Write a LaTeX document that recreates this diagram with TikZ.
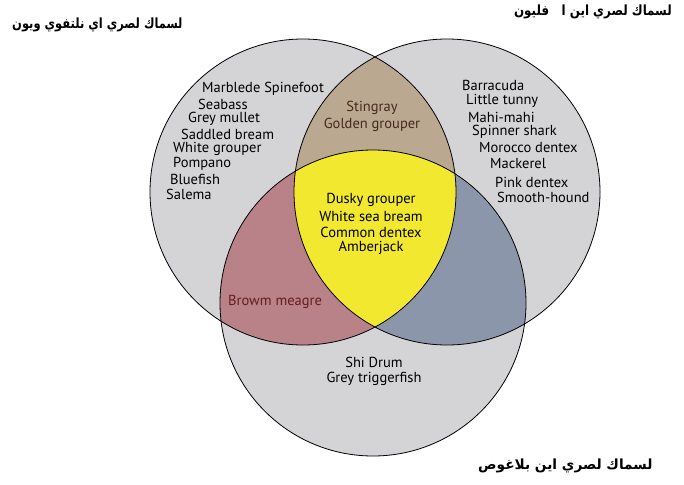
\documentclass[tikz,border=0pt]{standalone}
\usepackage{fontspec}
\setmainfont{PT Sans}
\newfontfamily\arabicfont[Script=Arabic]{DejaVu Sans}
\TeXXeTstate=1
\definecolor{circgray}{RGB}{212,212,214}
\definecolor{tanfill}{RGB}{186,168,145}
\definecolor{redfill}{RGB}{184,130,136}
\definecolor{bluefill}{RGB}{140,150,170}
\definecolor{yelfill}{RGB}{242,232,48}
\definecolor{tantext}{RGB}{70,42,28}
\definecolor{redtext}{RGB}{100,30,30}
\begin{document}
\begin{tikzpicture}[x=1pt,y=-1pt,
  every node/.style={inner sep=0pt},
  fish/.style={anchor=west,font=\fontsize{14.5}{16}\selectfont},
  fishc/.style={anchor=center,font=\fontsize{14.5}{16}\selectfont},
  arlabel/.style={font=\arabicfont\bfseries\fontsize{14}{16}\selectfont},
  edge/.style={draw=black,line width=0.8pt}]
\useasboundingbox (0,0) rectangle (684,484);
\fill[white] (0,0) rectangle (684,484);
\coordinate (cl) at (303,192);
\coordinate (cr) at (447,192);
\coordinate (cb) at (373,303);
\def\R{153pt}
% base circles
\fill[circgray] (cl) circle[radius=\R];
\fill[circgray] (cr) circle[radius=\R];
\fill[circgray] (cb) circle[radius=\R];
% pairwise overlaps
\begin{scope}\clip (cl) circle[radius=\R]; \fill[tanfill] (cr) circle[radius=\R];\end{scope}
\begin{scope}\clip (cl) circle[radius=\R]; \fill[redfill] (cb) circle[radius=\R];\end{scope}
\begin{scope}\clip (cr) circle[radius=\R]; \fill[bluefill] (cb) circle[radius=\R];\end{scope}
\begin{scope}\clip (cl) circle[radius=\R]; \clip (cr) circle[radius=\R]; \fill[yelfill] (cb) circle[radius=\R];\end{scope}
% outlines
\draw[edge] (cl) circle[radius=\R];
\draw[edge] (cr) circle[radius=\R];
\draw[edge] (cb) circle[radius=\R];
% left set
\node[fish] (l1) at (202,89) {Marblede Spinefoot};
\node[fish] (l2) at (198,104) {Seabass};
\node[fish] (l3) at (188,119) {Grey mullet};
\node[fish] (l4) at (181,134) {Saddled bream};
\node[fish] (l5) at (173,149) {White grouper};
\node[fish] (l6) at (173,164) {Pompano};
\node[fish] (l7) at (170,179) {Bluefish};
\node[fish] (l8) at (166,194) {Salema};
% right set
\node[fish] (r1) at (462,85) {Barracuda};
\node[fish] (r2) at (466,101) {Little tunny};
\node[fish] (r3) at (468,117) {Mahi-mahi};
\node[fish] (r4) at (472,132) {Spinner shark};
\node[fish] (r5) at (479,148) {Morocco dentex};
\node[fish] (r6) at (490,164) {Mackerel};
\node[fish] (r7) at (495,182) {Pink dentex};
\node[fish] (r8) at (497,197) {Smooth-hound};
% top overlap
\node[fishc,text=tantext] (t1) at (372,108) {Stingray};
\node[fishc,text=tantext] (t2) at (372,125) {Golden grouper};
% center
\node[fishc] (c1) at (371,200) {Dusky grouper};
\node[fishc] (c2) at (371,216) {White sea bream};
\node[fishc] (c3) at (371,232) {Common dentex};
\node[fishc] (c4) at (371,248) {Amberjack};
% left-bottom overlap
\node[fish,text=redtext] (m1) at (228,302) {Browm meagre};
% bottom set
\node[fishc] (b1) at (374,362) {Shi Drum};
\node[fishc] (b2) at (374,379) {Grey triggerfish};
% Arabic labels
\node[arlabel,anchor=west] (al) at (12,25) {\scalebox{0.82}[1]{\beginR لسماك لصري اي نلتفوي ويون\endR}};
\node[arlabel,anchor=east] (ar) at (672,12) {\scalebox{0.85}[1]{\beginR لسماك لصري اين ا \ \ فليون\endR}};
\node[arlabel,anchor=west] (ab) at (478,466) {\scalebox{0.98}[1]{\beginR لسماك لصري اين بلاغوص\endR}};
\end{tikzpicture}
\end{document}
